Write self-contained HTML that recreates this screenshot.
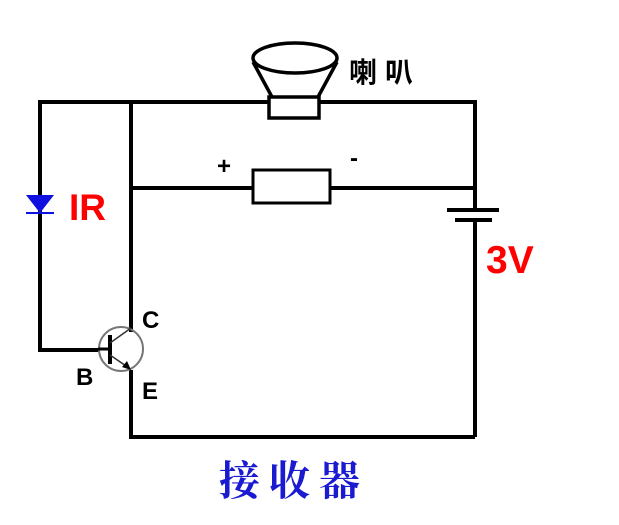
<!DOCTYPE html>
<html><head><style>body{margin:0;background:#fff}</style></head><body>
<svg width="619" height="520" xmlns="http://www.w3.org/2000/svg">
<g stroke="#000" stroke-width="4" fill="none">
<polyline points="40,215 40,102 475,102 475,210"/>
<line x1="40" y1="195" x2="40" y2="350"/>
<line x1="38" y1="350" x2="100" y2="350"/>
<line x1="131" y1="102" x2="131" y2="332"/>
<line x1="131" y1="188" x2="253" y2="188"/>
<line x1="330" y1="188" x2="475" y2="188"/>
<rect x="253" y="170" width="77" height="33" stroke-width="3"/>
<line x1="475" y1="220" x2="475" y2="437"/>
<line x1="447" y1="210" x2="499" y2="210"/>
<line x1="455" y1="220" x2="492" y2="220"/>
<polyline points="131,370 131,437 475,437"/>
<line x1="110" y1="335" x2="110" y2="364" stroke-width="4"/>
<rect x="269" y="97" width="50" height="21" fill="#fff" stroke-width="3.5"/>
<polyline points="253,62 272,97" stroke-width="3.5"/>
<polyline points="337,62 318,97" stroke-width="3.5"/>
<ellipse cx="295" cy="58" rx="42" ry="15" stroke-width="3.5" fill="#fff"/>
</g>
<circle cx="121" cy="349" r="22" stroke="#777" stroke-width="2" fill="none"/>
<line x1="110" y1="343" x2="131" y2="328" stroke="#333" stroke-width="1.5"/>
<line x1="110" y1="355" x2="129" y2="368" stroke="#333" stroke-width="1.5"/>
<polygon points="131,370 122,367 127,361" fill="#000"/>
<line x1="98" y1="349" x2="110" y2="349" stroke="#000" stroke-width="3"/>
<polygon points="26,195 54,195 40,213" fill="#1010e0"/>
<line x1="26" y1="213" x2="54" y2="213" stroke="#1010e0" stroke-width="2"/>
<g font-family="Liberation Sans, sans-serif" font-weight="bold">
<text x="69" y="220" font-size="37" fill="#f00">IR</text>
<text x="486" y="273" font-size="39" fill="#f00">3V</text>
<text x="142" y="328" font-size="24">C</text>
<text x="76" y="385" font-size="24">B</text>
<text x="142" y="399" font-size="24">E</text>
<text x="217" y="174" font-size="24">+</text>
<text x="350" y="166" font-size="24">-</text>
</g>
<text x="349" y="82" font-family="Noto Sans CJK SC, sans-serif" font-size="28" font-weight="bold" letter-spacing="8">喇叭</text>
<text x="219" y="495" font-family="Noto Serif CJK SC, serif" font-size="41" font-weight="bold" fill="#1a1ad0" letter-spacing="9">接收器</text>
</svg>
</body></html>
